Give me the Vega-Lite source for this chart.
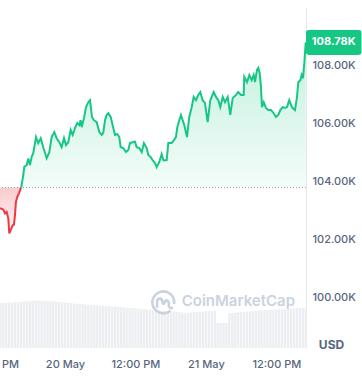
{
  "$schema": "https://vega.github.io/schema/vega-lite/v6.json",
  "width": 306,
  "height": 341,
  "autosize": {"type": "none"},
  "padding": {"left": 0, "top": 7, "right": 56, "bottom": 32},
  "background": "white",
  "config": {
    "view": {"stroke": null},
    "font": "Inter",
    "axisX": {"domain": false, "ticks": false, "grid": false, "labelFlush": false, "labelOverlap": false, "labelPadding": 10.5, "labelFontSize": 11, "labelColor": "#58667e", "labelFont": "Inter", "labelFontWeight": 500},
    "axisY": {"domain": true, "domainColor": "#e6e8eb", "ticks": false, "grid": true, "gridColor": "#eceef1", "labelPadding": 6, "labelFontSize": 11, "labelColor": "#58667e", "labelFont": "Inter", "labelFontWeight": 500}
  },
  "datasets": {
    "price": [
      {"t": "2025-05-19T12:56", "p": 103070, "s": "d"},
      {"t": "2025-05-19T13:29", "p": 103020, "s": "d"},
      {"t": "2025-05-19T13:47", "p": 102890, "s": "d"},
      {"t": "2025-05-19T14:04", "p": 102940, "s": "d"},
      {"t": "2025-05-19T14:21", "p": 102710, "s": "d"},
      {"t": "2025-05-19T14:31", "p": 102200, "s": "d"},
      {"t": "2025-05-19T14:45", "p": 102310, "s": "d"},
      {"t": "2025-05-19T15:06", "p": 102480, "s": "d"},
      {"t": "2025-05-19T15:19", "p": 102500, "s": "d"},
      {"t": "2025-05-19T15:29", "p": 102830, "s": "d"},
      {"t": "2025-05-19T15:39", "p": 103290, "s": "d"},
      {"t": "2025-05-19T15:53", "p": 103460, "s": "d"},
      {"t": "2025-05-19T16:10", "p": 103580, "s": "d"},
      {"t": "2025-05-19T16:27", "p": 103750, "s": "d"},
      {"t": "2025-05-19T16:33", "p": 103780, "s": "d"},
      {"t": "2025-05-19T16:33", "p": 103780, "s": "u"},
      {"t": "2025-05-19T16:54", "p": 104210, "s": "u"},
      {"t": "2025-05-19T17:04", "p": 104490, "s": "u"},
      {"t": "2025-05-19T17:29", "p": 104550, "s": "u"},
      {"t": "2025-05-19T17:45", "p": 104780, "s": "u"},
      {"t": "2025-05-19T18:02", "p": 104550, "s": "u"},
      {"t": "2025-05-19T18:20", "p": 104840, "s": "u"},
      {"t": "2025-05-19T18:36", "p": 104960, "s": "u"},
      {"t": "2025-05-19T19:04", "p": 105520, "s": "u"},
      {"t": "2025-05-19T19:27", "p": 105310, "s": "u"},
      {"t": "2025-05-19T19:52", "p": 105480, "s": "u"},
      {"t": "2025-05-19T20:18", "p": 105170, "s": "u"},
      {"t": "2025-05-19T20:53", "p": 104790, "s": "u"},
      {"t": "2025-05-19T21:20", "p": 105000, "s": "u"},
      {"t": "2025-05-19T21:44", "p": 105520, "s": "u"},
      {"t": "2025-05-19T22:11", "p": 105690, "s": "u"},
      {"t": "2025-05-19T22:35", "p": 105480, "s": "u"},
      {"t": "2025-05-19T23:02", "p": 105340, "s": "u"},
      {"t": "2025-05-19T23:26", "p": 105170, "s": "u"},
      {"t": "2025-05-19T23:50", "p": 105480, "s": "u"},
      {"t": "2025-05-20T00:10", "p": 105240, "s": "u"},
      {"t": "2025-05-20T00:34", "p": 105340, "s": "u"},
      {"t": "2025-05-20T00:58", "p": 105760, "s": "u"},
      {"t": "2025-05-20T01:19", "p": 105590, "s": "u"},
      {"t": "2025-05-20T01:42", "p": 105830, "s": "u"},
      {"t": "2025-05-20T02:06", "p": 106000, "s": "u"},
      {"t": "2025-05-20T02:26", "p": 105930, "s": "u"},
      {"t": "2025-05-20T02:40", "p": 106100, "s": "u"},
      {"t": "2025-05-20T02:51", "p": 105860, "s": "u"},
      {"t": "2025-05-20T03:14", "p": 106170, "s": "u"},
      {"t": "2025-05-20T03:35", "p": 106550, "s": "u"},
      {"t": "2025-05-20T03:58", "p": 106720, "s": "u"},
      {"t": "2025-05-20T04:16", "p": 106790, "s": "u"},
      {"t": "2025-05-20T04:36", "p": 106210, "s": "u"},
      {"t": "2025-05-20T04:56", "p": 106100, "s": "u"},
      {"t": "2025-05-20T05:24", "p": 106030, "s": "u"},
      {"t": "2025-05-20T05:51", "p": 105690, "s": "u"},
      {"t": "2025-05-20T06:15", "p": 105590, "s": "u"},
      {"t": "2025-05-20T06:31", "p": 105660, "s": "u"},
      {"t": "2025-05-20T06:49", "p": 106100, "s": "u"},
      {"t": "2025-05-20T07:06", "p": 106280, "s": "u"},
      {"t": "2025-05-20T07:23", "p": 106340, "s": "u"},
      {"t": "2025-05-20T07:47", "p": 106210, "s": "u"},
      {"t": "2025-05-20T08:14", "p": 105830, "s": "u"},
      {"t": "2025-05-20T08:31", "p": 105590, "s": "u"},
      {"t": "2025-05-20T08:55", "p": 105620, "s": "u"},
      {"t": "2025-05-20T09:15", "p": 105520, "s": "u"},
      {"t": "2025-05-20T09:29", "p": 105170, "s": "u"},
      {"t": "2025-05-20T09:56", "p": 105140, "s": "u"},
      {"t": "2025-05-20T10:23", "p": 105000, "s": "u"},
      {"t": "2025-05-20T10:47", "p": 105070, "s": "u"},
      {"t": "2025-05-20T11:04", "p": 105310, "s": "u"},
      {"t": "2025-05-20T11:32", "p": 105340, "s": "u"},
      {"t": "2025-05-20T11:55", "p": 105360, "s": "u"},
      {"t": "2025-05-20T12:13", "p": 105170, "s": "u"},
      {"t": "2025-05-20T12:39", "p": 105140, "s": "u"},
      {"t": "2025-05-20T13:04", "p": 105000, "s": "u"},
      {"t": "2025-05-20T13:27", "p": 105310, "s": "u"},
      {"t": "2025-05-20T13:55", "p": 105140, "s": "u"},
      {"t": "2025-05-20T14:11", "p": 104900, "s": "u"},
      {"t": "2025-05-20T14:36", "p": 104830, "s": "u"},
      {"t": "2025-05-20T14:56", "p": 104720, "s": "u"},
      {"t": "2025-05-20T15:20", "p": 104620, "s": "u"},
      {"t": "2025-05-20T15:37", "p": 104480, "s": "u"},
      {"t": "2025-05-20T16:04", "p": 104660, "s": "u"},
      {"t": "2025-05-20T16:28", "p": 104930, "s": "u"},
      {"t": "2025-05-20T16:45", "p": 104720, "s": "u"},
      {"t": "2025-05-20T17:19", "p": 104720, "s": "u"},
      {"t": "2025-05-20T17:36", "p": 105310, "s": "u"},
      {"t": "2025-05-20T18:10", "p": 105310, "s": "u"},
      {"t": "2025-05-20T18:34", "p": 105410, "s": "u"},
      {"t": "2025-05-20T18:54", "p": 105520, "s": "u"},
      {"t": "2025-05-20T19:08", "p": 105860, "s": "u"},
      {"t": "2025-05-20T19:28", "p": 106100, "s": "u"},
      {"t": "2025-05-20T19:45", "p": 106280, "s": "u"},
      {"t": "2025-05-20T20:19", "p": 105930, "s": "u"},
      {"t": "2025-05-20T20:47", "p": 105520, "s": "u"},
      {"t": "2025-05-20T21:10", "p": 106210, "s": "u"},
      {"t": "2025-05-20T21:35", "p": 106550, "s": "u"},
      {"t": "2025-05-20T21:55", "p": 106900, "s": "u"},
      {"t": "2025-05-20T22:19", "p": 106790, "s": "u"},
      {"t": "2025-05-20T22:42", "p": 106970, "s": "u"},
      {"t": "2025-05-20T23:03", "p": 107070, "s": "u"},
      {"t": "2025-05-20T23:27", "p": 106790, "s": "u"},
      {"t": "2025-05-20T23:51", "p": 106690, "s": "u"},
      {"t": "2025-05-21T00:18", "p": 106030, "s": "u"},
      {"t": "2025-05-21T00:45", "p": 106790, "s": "u"},
      {"t": "2025-05-21T01:20", "p": 107070, "s": "u"},
      {"t": "2025-05-21T01:43", "p": 106900, "s": "u"},
      {"t": "2025-05-21T02:07", "p": 106790, "s": "u"},
      {"t": "2025-05-21T02:27", "p": 106550, "s": "u"},
      {"t": "2025-05-21T02:52", "p": 106900, "s": "u"},
      {"t": "2025-05-21T03:15", "p": 106720, "s": "u"},
      {"t": "2025-05-21T03:43", "p": 106900, "s": "u"},
      {"t": "2025-05-21T04:09", "p": 106280, "s": "u"},
      {"t": "2025-05-21T04:34", "p": 106860, "s": "u"},
      {"t": "2025-05-21T05:08", "p": 106970, "s": "u"},
      {"t": "2025-05-21T05:31", "p": 107070, "s": "u"},
      {"t": "2025-05-21T05:59", "p": 106970, "s": "u"},
      {"t": "2025-05-21T06:26", "p": 106970, "s": "u"},
      {"t": "2025-05-21T06:32", "p": 107590, "s": "u"},
      {"t": "2025-05-21T07:00", "p": 107410, "s": "u"},
      {"t": "2025-05-21T07:24", "p": 107660, "s": "u"},
      {"t": "2025-05-21T07:48", "p": 107480, "s": "u"},
      {"t": "2025-05-21T08:08", "p": 107660, "s": "u"},
      {"t": "2025-05-21T08:22", "p": 107410, "s": "u"},
      {"t": "2025-05-21T08:42", "p": 107830, "s": "u"},
      {"t": "2025-05-21T08:56", "p": 107900, "s": "u"},
      {"t": "2025-05-21T09:10", "p": 107720, "s": "u"},
      {"t": "2025-05-21T09:23", "p": 107240, "s": "u"},
      {"t": "2025-05-21T09:33", "p": 106550, "s": "u"},
      {"t": "2025-05-21T09:51", "p": 106720, "s": "u"},
      {"t": "2025-05-21T10:14", "p": 106520, "s": "u"},
      {"t": "2025-05-21T10:38", "p": 106450, "s": "u"},
      {"t": "2025-05-21T11:05", "p": 106450, "s": "u"},
      {"t": "2025-05-21T11:33", "p": 106340, "s": "u"},
      {"t": "2025-05-21T11:56", "p": 106210, "s": "u"},
      {"t": "2025-05-21T12:20", "p": 106280, "s": "u"},
      {"t": "2025-05-21T12:40", "p": 106450, "s": "u"},
      {"t": "2025-05-21T13:05", "p": 106550, "s": "u"},
      {"t": "2025-05-21T13:28", "p": 106520, "s": "u"},
      {"t": "2025-05-21T13:49", "p": 106550, "s": "u"},
      {"t": "2025-05-21T14:12", "p": 106790, "s": "u"},
      {"t": "2025-05-21T14:30", "p": 106620, "s": "u"},
      {"t": "2025-05-21T14:47", "p": 106520, "s": "u"},
      {"t": "2025-05-21T15:11", "p": 106450, "s": "u"},
      {"t": "2025-05-21T15:31", "p": 106900, "s": "u"},
      {"t": "2025-05-21T15:44", "p": 107410, "s": "u"},
      {"t": "2025-05-21T16:05", "p": 107480, "s": "u"},
      {"t": "2025-05-21T16:19", "p": 107660, "s": "u"},
      {"t": "2025-05-21T16:32", "p": 107550, "s": "u"},
      {"t": "2025-05-21T16:46", "p": 108070, "s": "u"},
      {"t": "2025-05-21T17:00", "p": 108780, "s": "u"}
    ],
    "vol": [
      {"t": "2025-05-19T13:00", "v": 39.6}, {"t": "2025-05-19T13:30", "v": 39.5}, {"t": "2025-05-19T14:00", "v": 39.7}, {"t": "2025-05-19T14:30", "v": 40.0},
      {"t": "2025-05-19T15:00", "v": 40.1}, {"t": "2025-05-19T15:30", "v": 40.4}, {"t": "2025-05-19T16:00", "v": 40.5}, {"t": "2025-05-19T16:30", "v": 40.6},
      {"t": "2025-05-19T17:00", "v": 40.9}, {"t": "2025-05-19T17:30", "v": 41.0}, {"t": "2025-05-19T18:00", "v": 41.3}, {"t": "2025-05-19T18:30", "v": 41.5},
      {"t": "2025-05-19T19:00", "v": 41.7}, {"t": "2025-05-19T19:30", "v": 41.8}, {"t": "2025-05-19T20:00", "v": 41.5}, {"t": "2025-05-19T20:30", "v": 41.4},
      {"t": "2025-05-19T21:00", "v": 41.3}, {"t": "2025-05-19T21:30", "v": 41.2}, {"t": "2025-05-19T22:00", "v": 41.0}, {"t": "2025-05-19T22:30", "v": 40.8},
      {"t": "2025-05-19T23:00", "v": 40.5}, {"t": "2025-05-19T23:30", "v": 40.3}, {"t": "2025-05-20T00:00", "v": 40.0}, {"t": "2025-05-20T00:30", "v": 39.7},
      {"t": "2025-05-20T01:00", "v": 39.5}, {"t": "2025-05-20T01:30", "v": 39.2}, {"t": "2025-05-20T02:00", "v": 39.0}, {"t": "2025-05-20T02:30", "v": 38.7},
      {"t": "2025-05-20T03:00", "v": 38.6}, {"t": "2025-05-20T03:30", "v": 38.3}, {"t": "2025-05-20T04:00", "v": 38.2}, {"t": "2025-05-20T04:30", "v": 37.9},
      {"t": "2025-05-20T05:00", "v": 37.8}, {"t": "2025-05-20T05:30", "v": 37.7}, {"t": "2025-05-20T06:00", "v": 37.4}, {"t": "2025-05-20T06:30", "v": 37.3},
      {"t": "2025-05-20T07:00", "v": 37.0}, {"t": "2025-05-20T07:30", "v": 36.9}, {"t": "2025-05-20T08:00", "v": 36.6}, {"t": "2025-05-20T08:30", "v": 36.5},
      {"t": "2025-05-20T09:00", "v": 36.1}, {"t": "2025-05-20T09:30", "v": 36.0}, {"t": "2025-05-20T10:00", "v": 35.7}, {"t": "2025-05-20T10:30", "v": 35.6},
      {"t": "2025-05-20T11:00", "v": 35.2}, {"t": "2025-05-20T11:30", "v": 35.1}, {"t": "2025-05-20T12:00", "v": 34.8}, {"t": "2025-05-20T12:30", "v": 34.7},
      {"t": "2025-05-20T13:00", "v": 34.3}, {"t": "2025-05-20T13:30", "v": 34.2}, {"t": "2025-05-20T14:00", "v": 33.9}, {"t": "2025-05-20T14:30", "v": 33.8},
      {"t": "2025-05-20T15:00", "v": 33.4}, {"t": "2025-05-20T15:30", "v": 33.3}, {"t": "2025-05-20T16:00", "v": 33.0}, {"t": "2025-05-20T16:30", "v": 32.9},
      {"t": "2025-05-20T17:00", "v": 32.6}, {"t": "2025-05-20T17:30", "v": 32.5}, {"t": "2025-05-20T18:00", "v": 32.6}, {"t": "2025-05-20T18:30", "v": 32.1},
      {"t": "2025-05-20T19:00", "v": 32.0}, {"t": "2025-05-20T19:30", "v": 31.7}, {"t": "2025-05-20T20:00", "v": 31.2}, {"t": "2025-05-20T20:30", "v": 30.8},
      {"t": "2025-05-20T21:00", "v": 30.8}, {"t": "2025-05-20T21:30", "v": 31.2}, {"t": "2025-05-20T22:00", "v": 31.7}, {"t": "2025-05-20T22:30", "v": 31.6},
      {"t": "2025-05-20T23:00", "v": 32.1}, {"t": "2025-05-20T23:30", "v": 32.0}, {"t": "2025-05-21T00:00", "v": 32.6}, {"t": "2025-05-21T00:30", "v": 32.5},
      {"t": "2025-05-21T01:00", "v": 32.6}, {"t": "2025-05-21T01:30", "v": 33.0}, {"t": "2025-05-21T02:00", "v": 22.0}, {"t": "2025-05-21T02:30", "v": 22.0},
      {"t": "2025-05-21T03:00", "v": 22.1}, {"t": "2025-05-21T03:30", "v": 22.0}, {"t": "2025-05-21T04:00", "v": 30.8}, {"t": "2025-05-21T04:30", "v": 30.9},
      {"t": "2025-05-21T05:00", "v": 31.2}, {"t": "2025-05-21T05:30", "v": 31.3}, {"t": "2025-05-21T06:00", "v": 31.7}, {"t": "2025-05-21T06:30", "v": 31.6},
      {"t": "2025-05-21T07:00", "v": 32.1}, {"t": "2025-05-21T07:30", "v": 32.2}, {"t": "2025-05-21T08:00", "v": 32.6}, {"t": "2025-05-21T08:30", "v": 32.5},
      {"t": "2025-05-21T09:00", "v": 33.0}, {"t": "2025-05-21T09:30", "v": 33.1}, {"t": "2025-05-21T10:00", "v": 33.4}, {"t": "2025-05-21T10:30", "v": 33.5},
      {"t": "2025-05-21T11:00", "v": 33.4}, {"t": "2025-05-21T11:30", "v": 33.9}, {"t": "2025-05-21T12:00", "v": 33.8}, {"t": "2025-05-21T12:30", "v": 34.3},
      {"t": "2025-05-21T13:00", "v": 34.2}, {"t": "2025-05-21T13:30", "v": 34.3}, {"t": "2025-05-21T14:00", "v": 34.8}, {"t": "2025-05-21T14:30", "v": 34.7},
      {"t": "2025-05-21T15:00", "v": 34.8}, {"t": "2025-05-21T15:30", "v": 35.2}, {"t": "2025-05-21T16:00", "v": 35.1}, {"t": "2025-05-21T16:30", "v": 35.2},
      {"t": "2025-05-21T17:00", "v": 35.2}
    ]
  },
  "layer": [
    {
      "data": {"name": "vol"},
      "mark": {"type": "bar", "size": 2.4, "color": "#eceef2"},
      "encoding": {
        "x": {
          "field": "t", "type": "temporal", "title": null,
          "scale": {"padding": 0, "domain": [{"year": 2025, "month": 5, "date": 19, "hours": 12, "minutes": 56}, {"year": 2025, "month": 5, "date": 21, "hours": 17, "minutes": 3}]},
          "axis": {
            "values": [{"year": 2025, "month": 5, "date": 20}, {"year": 2025, "month": 5, "date": 20, "hours": 12}, {"year": 2025, "month": 5, "date": 21}, {"year": 2025, "month": 5, "date": 21, "hours": 12}],
            "labelExpr": "hours(datum.value) == 0 ? timeFormat(datum.value, '%-d %b') : timeFormat(datum.value, '%I:%M %p')"
          }
        },
        "y": {"field": "v", "type": "quantitative", "scale": {"domain": [0, 300]}, "axis": null}
      }
    },
    {
      "layer": [
        {
          "data": {"name": "price"},
          "transform": [{"filter": "datum.s == 'd'"}],
          "mark": {"type": "area", "color": {"gradient": "linear", "x1": 0, "y1": 0, "x2": 0, "y2": 1, "stops": [{"offset": 0, "color": "rgba(234,57,67,0.26)"}, {"offset": 1, "color": "rgba(234,57,67,0.06)"}]}},
          "encoding": {
            "x": {"field": "t", "type": "temporal", "title": null},
            "y": {
              "field": "p", "type": "quantitative", "title": null,
              "scale": {"domain": [98250, 110000], "nice": false, "zero": false},
              "axis": {
                "orient": "right",
                "values": [100000, 102000, 104000, 106000, 108000, 110000],
                "labelExpr": "datum.value >= 110000 ? '' : format(datum.value / 1000, '.2f') + 'K'"
              }
            },
            "y2": {"datum": 103780}
          }
        },
        {
          "data": {"name": "price"},
          "transform": [{"filter": "datum.s == 'u'"}],
          "mark": {"type": "area", "color": {"gradient": "linear", "x1": 0, "y1": 0, "x2": 0, "y2": 1, "stops": [{"offset": 0, "color": "rgba(22,199,132,0.26)"}, {"offset": 1, "color": "rgba(22,199,132,0.05)"}]}},
          "encoding": {
            "x": {"field": "t", "type": "temporal", "title": null},
            "y": {"field": "p", "type": "quantitative", "title": null, "scale": {"domain": [98250, 110000], "nice": false, "zero": false}},
            "y2": {"datum": 103780}
          }
        },
        {
          "data": {"values": [{}]},
          "mark": {"type": "rule", "color": "#9aa3b2", "strokeDash": [1, 2], "strokeWidth": 1},
          "encoding": {"y": {"datum": 103780, "type": "quantitative"}}
        },
        {
          "data": {"name": "price"},
          "mark": {"type": "line", "strokeWidth": 2},
          "encoding": {
            "x": {"field": "t", "type": "temporal", "title": null},
            "y": {"field": "p", "type": "quantitative", "title": null, "scale": {"domain": [98250, 110000], "nice": false, "zero": false}},
            "color": {"field": "s", "type": "nominal", "scale": {"domain": ["d", "u"], "range": ["#ea3943", "#16c784"]}, "legend": null}
          }
        },
        {
          "data": {"values": [{"x": 0}]},
          "mark": {"type": "point", "shape": "M 0.55 0.62 A 0.85 0.85 0 1 1 0.84 0.1 M -0.48 0.38 L -0.48 -0.05 Q -0.48 -0.32 -0.27 -0.32 Q -0.08 -0.32 -0.05 0 Q 0 0.2 0.1 0 Q 0.22 -0.32 0.38 -0.1 Q 0.46 0.05 0.42 0.25 Q 0.5 0.5 0.75 0.38", "filled": false, "size": 670, "color": "#cbd2df", "strokeWidth": 2.6, "opacity": 1},
          "encoding": {
            "x": {"datum": {"year": 2025, "month": 5, "date": 20, "hours": 16, "minutes": 45}, "type": "temporal"},
            "y": {"datum": 99810, "type": "quantitative"}
          }
        },
        {
          "data": {"values": [{"label": "CoinMarketCap"}]},
          "mark": {"type": "text", "align": "left", "baseline": "alphabetic", "fontSize": 15, "fontWeight": 600, "color": "#cbd2df", "font": "Inter"},
          "encoding": {
            "x": {"datum": {"year": 2025, "month": 5, "date": 20, "hours": 19, "minutes": 53}, "type": "temporal"},
            "y": {"datum": 99690, "type": "quantitative"},
            "text": {"field": "label"}
          }
        },
        {
          "data": {"values": [{"label": "12:00 PM"}]},
          "mark": {"type": "text", "align": "center", "baseline": "top", "fontSize": 11, "fontWeight": 500, "color": "#58667e", "font": "Inter"},
          "encoding": {
            "x": {"datum": {"year": 2025, "month": 5, "date": 19, "hours": 12}, "type": "temporal"},
            "y": {"datum": 97888, "type": "quantitative"},
            "text": {"field": "label"}
          }
        },
        {
          "data": {"values": [{"x": 0}]},
          "mark": {"type": "point", "shape": "M -0.9 -0.45 L 0.9 -0.45 Q 1 -0.45 1 -0.35 L 1 0.35 Q 1 0.45 0.9 0.45 L -0.9 0.45 Q -1 0.45 -1 0.35 L -1 -0.35 Q -1 -0.45 -0.9 -0.45 Z", "filled": true, "size": 3080, "color": "#16c784", "opacity": 1, "xOffset": 27.75},
          "encoding": {
            "x": {"datum": {"year": 2025, "month": 5, "date": 21, "hours": 17, "minutes": 3}, "type": "temporal"},
            "y": {"datum": 108780, "type": "quantitative"}
          }
        },
        {
          "data": {"values": [{"label": "108.78K"}]},
          "mark": {"type": "text", "align": "center", "baseline": "middle", "fontSize": 11, "fontWeight": 700, "color": "white", "font": "Inter", "xOffset": 27.75},
          "encoding": {
            "x": {"datum": {"year": 2025, "month": 5, "date": 21, "hours": 17, "minutes": 3}, "type": "temporal"},
            "y": {"datum": 108780, "type": "quantitative"},
            "text": {"field": "label"}
          }
        },
        {
          "data": {"values": [{"label": "USD"}]},
          "mark": {"type": "text", "align": "center", "baseline": "middle", "fontSize": 12, "fontWeight": 700, "color": "#58667e", "font": "Inter", "xOffset": 25.5},
          "encoding": {
            "x": {"datum": {"year": 2025, "month": 5, "date": 21, "hours": 17, "minutes": 3}, "type": "temporal"},
            "y": {"datum": 98345, "type": "quantitative"},
            "text": {"field": "label"}
          }
        }
      ]
    }
  ],
  "resolve": {"scale": {"y": "independent"}}
}
